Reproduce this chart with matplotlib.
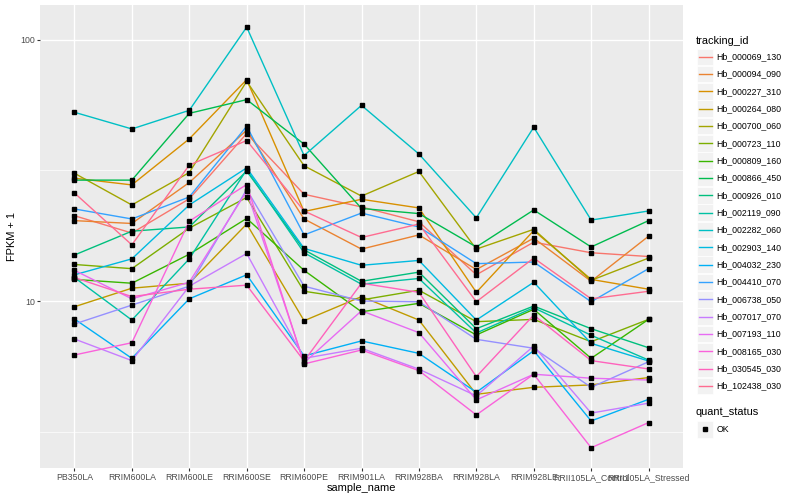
import matplotlib.pyplot as plt
from matplotlib.patches import Rectangle
from matplotlib.ticker import FixedLocator, NullFormatter

plt.rcParams['font.family'] = ['Liberation Sans', 'DejaVu Sans']

samples = ["PB350LA", "RRIM600LA", "RRIM600LE", "RRIM600SE", "RRIM600PE",
           "RRIM901LA", "RRIM928BA", "RRIM928LA", "RRIM928LE",
           "RRII105LA_Control", "RRII105LA_Stressed"]

tracking_ids = ["Hb_000069_130", "Hb_000094_090", "Hb_000227_310", "Hb_000264_080",
                "Hb_000700_060", "Hb_000723_110", "Hb_000809_160", "Hb_000866_450",
                "Hb_000926_010", "Hb_002119_090", "Hb_002282_060", "Hb_002903_140",
                "Hb_004032_230", "Hb_004410_070", "Hb_006738_050", "Hb_007017_070",
                "Hb_007193_110", "Hb_008165_030", "Hb_030545_030", "Hb_102438_030"]

# ggplot hue palette, 20 levels
colours = ["#F8766D", "#EA8331", "#D89000", "#C09B00", "#A3A500", "#7CAE00",
           "#39B600", "#00BB4E", "#00BF7D", "#00C1A3", "#00BFC4", "#00BAE0",
           "#00B0F6", "#35A2FF", "#9590FF", "#C77CFF", "#E76BF3", "#FA62DB",
           "#FF62BC", "#FF6C91"]

# FPKM + 1 per sample
hb_000069_130 = [21.2, 18.2, 24.6, 43.7, 25.6, 22.9, 20.1, 12.6, 16.8, 15.3, 14.8]
hb_000094_090 = [20.3, 19.8, 28.4, 45.0, 20.6, 15.8, 17.9, 13.2, 17.4, 11.9, 17.7]
hb_000227_310 = [29.5, 27.8, 41.7, 70.2, 22.0, 24.5, 22.7, 10.8, 18.6, 12.1, 11.1]
hb_000264_080 = [9.51, 11.2, 11.7, 19.7, 8.41, 10.4, 8.46, 4.40, 4.68, 4.78, 5.10]
hb_000700_060 = [30.8, 23.3, 31.0, 69.2, 32.9, 25.2, 31.3, 15.8, 18.8, 12.0, 14.6]
hb_000723_110 = [13.8, 13.3, 19.0, 24.9, 10.9, 10.1, 11.0, 8.34, 8.51, 6.99, 8.51]
hb_000809_160 = [12.1, 11.7, 15.1, 20.7, 13.1, 9.10, 9.80, 7.42, 9.30, 6.04, 8.51]
hb_000866_450 = [29.0, 29.0, 52.2, 58.9, 39.8, 22.6, 21.6, 16.1, 22.3, 16.1, 20.3]
hb_000926_010 = [15.0, 18.5, 19.2, 31.4, 15.7, 11.9, 12.9, 7.84, 9.57, 7.84, 6.63]
hb_002119_090 = [12.3, 8.46, 14.5, 31.8, 15.3, 11.6, 12.2, 7.55, 9.43, 7.40, 5.95]
hb_002282_060 = [52.7, 45.5, 53.6, 111.5, 36.0, 56.0, 36.5, 20.8, 46.2, 20.4, 22.1]
hb_002903_140 = [12.6, 14.5, 23.3, 32.3, 15.9, 13.7, 14.3, 8.46, 11.8, 6.89, 5.90]
hb_004032_230 = [8.54, 6.04, 10.2, 12.6, 6.17, 7.04, 6.31, 4.48, 6.46, 3.48, 4.21]
hb_004410_070 = [22.5, 20.6, 25.0, 46.6, 17.9, 21.7, 19.2, 13.9, 14.1, 9.94, 13.3]
hb_006738_050 = [8.17, 9.65, 11.4, 26.7, 11.4, 10.0, 9.94, 7.14, 6.60, 4.68, 5.86]
hb_007017_070 = [7.16, 5.92, 11.4, 15.2, 6.04, 6.60, 5.49, 4.34, 6.73, 3.73, 4.07]
hb_007193_110 = [13.1, 10.2, 11.8, 26.3, 5.81, 9.18, 7.57, 4.19, 5.25, 5.07, 4.99]
hb_008165_030 = [6.22, 6.93, 20.2, 27.9, 5.75, 6.50, 5.42, 3.67, 5.25, 2.75, 3.43]
hb_030545_030 = [12.3, 10.4, 11.1, 11.5, 5.90, 11.7, 10.8, 5.14, 8.84, 5.92, 5.50]
hb_102438_030 = [25.9, 16.4, 33.1, 41.1, 22.1, 17.5, 19.7, 9.94, 14.6, 10.2, 10.9]

series = [hb_000069_130, hb_000094_090, hb_000227_310, hb_000264_080, hb_000700_060,
          hb_000723_110, hb_000809_160, hb_000866_450, hb_000926_010, hb_002119_090,
          hb_002282_060, hb_002903_140, hb_004032_230, hb_004410_070, hb_006738_050,
          hb_007017_070, hb_007193_110, hb_008165_030, hb_030545_030, hb_102438_030]

quant_status = ["OK"]

W, H = 800, 500
fig = plt.figure(figsize=(8, 5), dpi=100)
fig.patch.set_facecolor('white')

# panel
left, right, top, bottom = 40, 683, 5, 468
ax = fig.add_axes([left / W, 1 - bottom / H, (right - left) / W, (bottom - top) / H])
ax.set_facecolor('#EBEBEB')
for s in ax.spines.values():
    s.set_visible(False)

x = list(range(len(samples)))
for vals, c in zip(series, colours):
    ax.plot(x, vals, color=c, lw=1.0, zorder=2)
for vals in series:
    ax.plot(x, vals, 's', color='black', ms=2.4, zorder=3)

ax.set_yscale('log')
ax.set_ylim(2.30, 135.5)
ax.set_xlim(-0.6, len(samples) - 0.4)

ax.yaxis.set_major_locator(FixedLocator([10, 100]))
ax.set_yticklabels(["10", "100"])
ax.yaxis.set_minor_locator(FixedLocator([10 ** 0.5, 10 ** 1.5]))
ax.yaxis.set_minor_formatter(NullFormatter())
ax.set_xticks(x)
ax.set_xticklabels(samples)

ax.tick_params(which='major', length=2, width=0.8, color='#333333',
               labelcolor='#4D4D4D', labelsize=6.3, pad=1.5)
ax.tick_params(which='minor', length=0)
ax.grid(which='major', color='white', lw=1.0)
ax.grid(which='minor', axis='y', color='white', lw=0.5)
ax.set_axisbelow(True)

fig.text((left + right) / 2 / W, 1 - 488 / H, "sample_name", ha='center', va='center',
         fontsize=7.9)
fig.text(12 / W, 1 - (top + bottom) / 2 / H, "FPKM + 1", ha='center', va='center',
         rotation=90, fontsize=7.9)

# legend drawn in pixel space
lax = fig.add_axes([0, 0, 1, 1])
lax.set_xlim(0, W)
lax.set_ylim(H, 0)
lax.axis('off')

lax.text(696, 40.7, "tracking_id", va='center', ha='left', fontsize=7.9)
for i, (name, c) in enumerate(zip(tracking_ids, colours)):
    cy = 56.7 + 17.33 * i
    lax.add_patch(Rectangle((697, cy - 8.2), 16.4, 16.4, facecolor='#F2F2F2',
                            edgecolor='white', lw=0.5))
    lax.plot([698.5, 711.5], [cy, cy], color=c, lw=1.0)
    lax.text(716.5, cy, name, va='center', ha='left', fontsize=6.3)

lax.text(696, 412.3, "quant_status", va='center', ha='left', fontsize=7.9)
for i, st in enumerate(quant_status):
    cy = 429.3 + 17.33 * i
    lax.add_patch(Rectangle((697, cy - 8.2), 16.4, 16.4, facecolor='#F2F2F2',
                            edgecolor='white', lw=0.5))
    lax.plot([705], [cy], 's', color='black', ms=2.4)
    lax.text(716.5, cy, st, va='center', ha='left', fontsize=6.3)

fig.savefig("out.png", dpi=100)
